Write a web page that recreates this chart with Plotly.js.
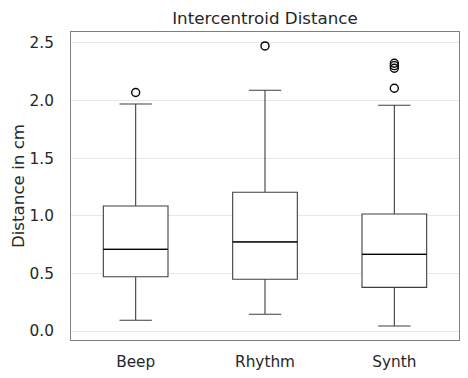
<!DOCTYPE html>
<html>
<head>
<meta charset="utf-8">
<script src="https://cdn.plot.ly/plotly-3.0.1.min.js"></script>
<style>html,body{margin:0;padding:0;background:#fff;}#chart{width:468px;height:378px;}</style>
</head>
<body>
<div id="chart"></div>
<script>
const categories = ["Beep", "Rhythm", "Synth"];
const lowerWhisker = [0.093, 0.145, 0.043];
const q1 = [0.471, 0.449, 0.379];
const median = [0.709, 0.773, 0.665];
const q3 = [1.085, 1.204, 1.016];
const upperWhisker = [1.970, 2.089, 1.959];
const outlierCategory = ["Beep", "Rhythm", "Synth", "Synth", "Synth", "Synth"];
const outlierValues = [2.07, 2.474, 2.107, 2.28, 2.303, 2.324];
const yTicks = [0.0, 0.5, 1.0, 1.5, 2.0, 2.5];

const font = "DejaVu Sans, sans-serif";
const textColor = "#262626";

const boxTrace = {
  type: "box",
  x: categories,
  q1: q1,
  median: median,
  q3: q3,
  lowerfence: lowerWhisker,
  upperfence: upperWhisker,
  boxpoints: false,
  width: 0.5,
  whiskerwidth: 0.5,
  fillcolor: "#ffffff",
  line: {color: "#3f3f3f", width: 1.1},
  showlegend: false,
  hoverinfo: "skip"
};

// median line overlay in black
const medX = [], medY = [];
categories.forEach((c, i) => {
  medX.push(i - 0.25, i + 0.25, null);
  medY.push(median[i], median[i], null);
});
const medianTrace = {
  type: "scatter", mode: "lines",
  x: medX, y: medY, xaxis: "x2",
  line: {color: "#000000", width: 1.3},
  showlegend: false, hoverinfo: "skip"
};

const outlierTrace = {
  type: "scatter", mode: "markers",
  x: outlierCategory, y: outlierValues,
  marker: {symbol: "circle-open", size: 8, color: "#000000", line: {width: 1.4, color: "#000000"}},
  showlegend: false, hoverinfo: "skip"
};

const layout = {
  width: 468, height: 378,
  margin: {l: 71, r: 9, t: 32, b: 38},
  paper_bgcolor: "#ffffff",
  plot_bgcolor: "#ffffff",
  font: {family: font, color: textColor, size: 15},
  title: {text: "Intercentroid Distance", font: {family: font, size: 16.7, color: textColor}, xref: "paper", x: 0.5, xanchor: "center", y: 0.952, yanchor: "middle"},
  xaxis: {
    type: "category",
    categoryorder: "array", categoryarray: categories,
    range: [-0.5, 2.5],
    showgrid: false, zeroline: false,
    showline: true, mirror: true, linecolor: "#808080", linewidth: 1,
    ticks: "", tickfont: {family: font, size: 15.3, color: textColor},
    ticklabelstandoff: 8
  },
  xaxis2: {
    overlaying: "x", range: [-0.5, 2.5], visible: false, fixedrange: true
  },
  yaxis: {
    range: [-0.078, 2.595],
    tickvals: yTicks,
    ticktext: yTicks.map(v => v.toFixed(1)),
    showgrid: true, gridcolor: "#e8e8e8", gridwidth: 1,
    zeroline: false,
    showline: true, mirror: true, linecolor: "#808080", linewidth: 1,
    ticks: "", tickfont: {family: font, size: 15.3, color: textColor},
    ticklabelstandoff: 13,
    title: {text: "Distance in cm", font: {family: font, size: 16.7, color: textColor}, standoff: 0}
  }
};

Plotly.newPlot("chart", [boxTrace, medianTrace, outlierTrace], layout, {displayModeBar: false, staticPlot: true});
</script>
</body>
</html>
